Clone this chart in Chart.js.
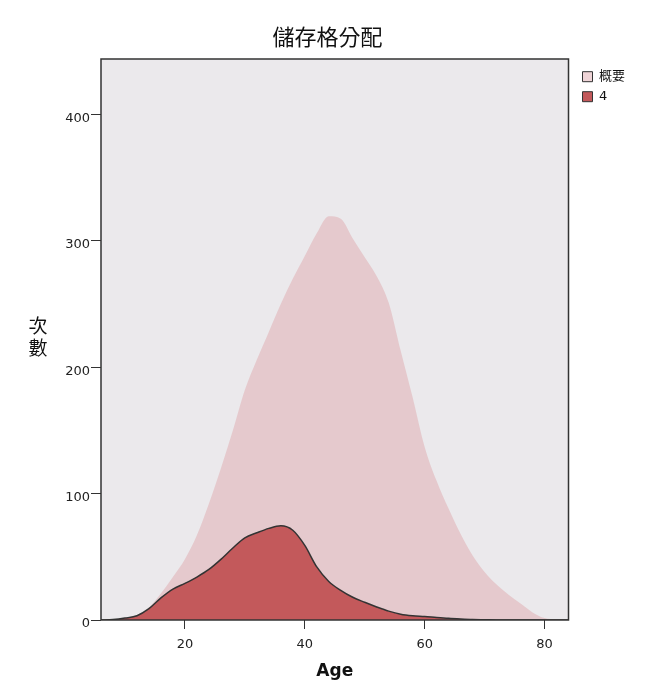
<!DOCTYPE html>
<html>
<head>
<meta charset="utf-8">
<script src="https://cdn.jsdelivr.net/npm/chart.js@4.4.1/dist/chart.umd.min.js"></script>
<style>
html, body { margin: 0; padding: 0; background: #ffffff; }
#wrap { width: 655px; height: 690px; }
</style>
</head>
<body>
<div id="wrap"><canvas id="c" width="655" height="690"></canvas></div>
<script>
// ---- data ----
const chartTitle = '儲存格分配';
const xAxisTitle = 'Age';
const yAxisTitle = ['次', '數'];
const seriesNames = ['概要', '4'];
const ages = [6, 8, 10, 12, 14, 16, 18, 20, 22, 24, 26, 28, 30, 32, 34, 36, 38, 40, 42, 44,
              46, 48, 50, 52, 54, 56, 58, 60, 62, 64, 66, 68, 70, 72, 74, 76, 78, 80, 82, 84];
const overallFreq = [0, 0.3, 1.5, 4, 10, 21, 34, 48, 67, 92, 120, 150, 182, 206, 228, 250, 270, 288, 306, 319.5,
                     317.5, 302, 287, 272, 251, 213, 176, 137, 110, 88, 68, 51, 38, 28, 20, 13, 6, 1.5, 0.3, 0];
const group4Freq = [0, 0.3, 1.5, 3.4, 9, 17.5, 24.5, 29, 34, 40, 48, 57, 65, 69, 72.5, 74.5, 71, 59, 42, 30.5,
                    23.5, 18, 14, 10.3, 7, 4.6, 3.4, 2.8, 2, 1.3, 0.8, 0.4, 0.2, 0, 0, 0, 0, 0, 0, 0];
const xTickValues = [20, 40, 60, 80];
const yTickValues = [0, 100, 200, 300, 400];
const xRange = [6, 84];
const yRange = [0, 444];

// ---- styles ----
const cjk = '"Noto Sans CJK TC", "Noto Sans CJK SC", sans-serif';
const latin = '"DejaVu Sans", "Liberation Sans", sans-serif';
const plotBg = '#ebe9ec';
const overallFill = 'rgba(223,169,174,0.5)';
const group4Fill = '#c3595b';
const legendFills = ['#efd4d7', '#c3595b'];

const plotFrame = {
  id: 'plotFrame',
  beforeDatasetsDraw(chart) {
    const { ctx, chartArea: a } = chart;
    ctx.save();
    ctx.fillStyle = plotBg;
    ctx.fillRect(a.left, a.top, a.right - a.left, a.bottom - a.top);
    ctx.restore();
  },
  afterDatasetsDraw(chart) {
    const { ctx, chartArea: a } = chart;
    ctx.save();
    ctx.strokeStyle = '#333333';
    ctx.lineWidth = 1.5;
    ctx.strokeRect(a.left, a.top, a.right - a.left, a.bottom - a.top);
    ctx.restore();
  },
  afterDraw(chart) {
    const { ctx, chartArea: a } = chart;
    const cy = (a.top + a.bottom) / 2;
    ctx.save();
    ctx.font = '19px ' + cjk;
    ctx.fillStyle = '#111111';
    ctx.textAlign = 'center';
    ctx.textBaseline = 'middle';
    ctx.fillText(yAxisTitle[0], a.left - 63, cy - 14);
    ctx.fillText(yAxisTitle[1], a.left - 63, cy + 8);
    ctx.restore();
  }
};

new Chart(document.getElementById('c'), {
  type: 'line',
  data: {
    datasets: [
      {
        label: seriesNames[0],
        data: ages.map((a, i) => ({ x: a, y: overallFreq[i] })),
        backgroundColor: overallFill,
        borderWidth: 0,
        borderColor: 'rgba(0,0,0,0)',
        fill: 'origin',
        pointRadius: 0,
        cubicInterpolationMode: 'monotone',
        order: 1
      },
      {
        label: seriesNames[1],
        data: ages.map((a, i) => ({ x: a, y: group4Freq[i] })),
        backgroundColor: group4Fill,
        borderColor: '#333333',
        borderWidth: 1.5,
        fill: 'origin',
        pointRadius: 0,
        cubicInterpolationMode: 'monotone',
        order: 0
      }
    ]
  },
  options: {
    responsive: false,
    animation: false,
    devicePixelRatio: 1,
    layout: { padding: 0 },
    plugins: {
      title: {
        display: true,
        text: chartTitle,
        color: '#111111',
        font: { family: cjk, size: 22, weight: 'normal' },
        padding: { top: 23, bottom: 9.6 }
      },
      legend: {
        display: true,
        position: 'right',
        align: 'start',
        fullSize: false,
        title: { display: true, text: ' ', font: { size: 1 }, padding: { top: 3, bottom: 0 } },
        labels: {
          boxWidth: 10,
          boxHeight: 10,
          padding: 7,
          color: '#111111',
          font: { family: '"DejaVu Sans", ' + cjk, size: 13 },
          generateLabels(chart) {
            return chart.data.datasets.map((ds, i) => ({
              text: ds.label,
              fillStyle: legendFills[i],
              strokeStyle: '#333333',
              lineWidth: 1,
              hidden: false,
              datasetIndex: i,
              fontColor: '#111111'
            }));
          }
        }
      },
      tooltip: { enabled: false }
    },
    scales: {
      x: {
        type: 'linear',
        min: xRange[0],
        max: xRange[1],
        afterBuildTicks(s) { s.ticks = xTickValues.map(v => ({ value: v })); },
        grid: { display: true, drawOnChartArea: false, drawTicks: true, tickLength: 9, color: '#333333', lineWidth: 1 },
        border: { display: false },
        ticks: { color: '#222222', font: { family: latin, size: 13 }, padding: 8, maxRotation: 0 },
        title: { display: true, text: xAxisTitle, color: '#111111', font: { family: latin, size: 17, weight: 'bold' }, padding: { top: 1, bottom: 8 } }
      },
      y: {
        type: 'linear',
        min: yRange[0],
        max: yRange[1],
        afterBuildTicks(s) { s.ticks = yTickValues.map(v => ({ value: v })); },
        afterFit(s) { s.width = 101; },
        grid: { display: true, drawOnChartArea: false, drawTicks: true, tickLength: 10, color: '#333333', lineWidth: 1 },
        border: { display: false },
        ticks: { color: '#222222', font: { family: latin, size: 13 }, padding: 1, labelOffset: 4 }
      },
      gapInner: {
        type: 'linear',
        position: 'right',
        display: true,
        weight: 0,
        grid: { display: false },
        border: { display: false },
        ticks: { display: false },
        afterFit(s) { s.width = 7; }
      },
      gapOuter: {
        type: 'linear',
        position: 'right',
        display: true,
        weight: 2000,
        grid: { display: false },
        border: { display: false },
        ticks: { display: false },
        afterFit(s) { s.width = 20; }
      }
    }
  },
  plugins: [plotFrame]
});
</script>
</body>
</html>
